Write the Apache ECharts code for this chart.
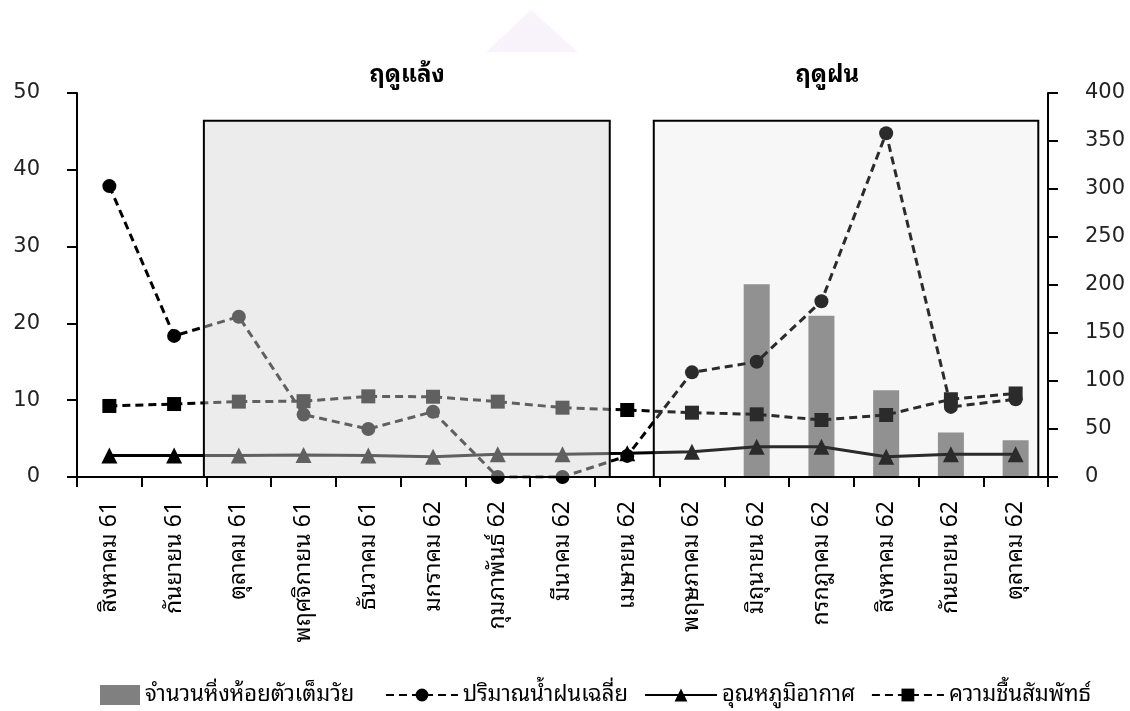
<!DOCTYPE html>
<html>
<head>
<meta charset="utf-8">
<title>หิ่งห้อยและสภาพอากาศ</title>
<script src="https://cdn.jsdelivr.net/npm/echarts@6/dist/echarts.min.js"></script>
<style>
  html, body { margin: 0; padding: 0; background: #ffffff; }
  #chart { width: 1130px; height: 711px; }
</style>
</head>
<body>
<div id="chart"></div>
<script>
// Months (Thai Buddhist-era short years)
const months = [
  'สิงหาคม 61', 'กันยายน 61', 'ตุลาคม 61', 'พฤศจิกายน 61', 'ธันวาคม 61',
  'มกราคม 62', 'กุมภาพันธ์ 62', 'มีนาคม 62', 'เมษายน 62', 'พฤษภาคม 62',
  'มิถุนายน 62', 'กรกฎาคม 62', 'สิงหาคม 62', 'กันยายน 62', 'ตุลาคม 62'
];

// Adult fireflies counted (left axis)
const fireflyAdults = [0, 0, 0, 0, 0, 0, 0, 0, 0, 0, 25.1, 21.0, 11.3, 5.8, 4.8];
// Average rainfall (right axis)
const rainfall = [303, 147, 167, 65, 50, 68, 0, 0, 22, 109, 120, 183, 358, 73, 81];
// Air temperature (right axis)
const airTemperature = [22.5, 22.5, 22.5, 23, 22.5, 21.2, 23.6, 23.6, 24.7, 26.4, 31.6, 31.6, 21.2, 23.6, 23.6];
// Relative humidity (right axis)
const relativeHumidity = [74, 76, 78.5, 79, 84, 83.6, 78.5, 72.2, 69.8, 67, 65.3, 59.4, 64.6, 81, 87];

const seriesNames = ['จำนวนหิ่งห้อยตัวเต็มวัย', 'ปริมาณน้ำฝนเฉลี่ย', 'อุณหภูมิอากาศ', 'ความชื้นสัมพัทธ์'];
const seasonNames = ['ฤดูแล้ง', 'ฤดูฝน'];

// Season panels in category-index units
const drySpan = [1.46, 7.73];
const wetSpan = [8.41, 14.35];
const panelTop = 46.4;          // left-axis value of the panel top edge
const seasonLabelAt = [4.6, 11.09];

const FONT = "'Noto Sans Thai Looped', 'Noto Sans Thai', 'Loma', 'Garuda', 'DejaVu Sans', sans-serif";
const NUM_FONT = "'DejaVu Sans', 'Noto Sans', sans-serif";

const axisCommon = {
  axisLine: { show: true, lineStyle: { color: '#000', width: 2 } },
  axisTick: { show: true, length: 10, lineStyle: { color: '#000', width: 2 } },
  splitLine: { show: false },
  axisLabel: { fontSize: 21, color: '#222', margin: 37, fontFamily: NUM_FONT }
};

const dashed = [8, 5];
const legendText = { fontSize: 22, color: '#000', fontFamily: FONT };

const option = {
  backgroundColor: '#ffffff',
  animation: false,
  textStyle: { fontFamily: FONT },
  grid: { left: 77, right: 82, top: 93, bottom: 234, containLabel: false },
  legend: [
    {
      top: 679,
      left: 95,
      itemWidth: 40,
      itemHeight: 20,
      itemGap: 10,
      textStyle: legendText,
      data: [{ name: seriesNames[0], icon: 'rect' }]
    },
    {
      top: 679,
      left: 380,
      itemWidth: 72,
      itemHeight: 16,
      itemGap: 16,
      textStyle: legendText,
      data: seriesNames.slice(1)
    }
  ],
  xAxis: {
    type: 'category',
    data: months,
    boundaryGap: true,
    axisLine: { show: true, lineStyle: { color: '#000', width: 2 } },
    axisTick: { show: true, length: 10, lineStyle: { color: '#000', width: 2 } },
    axisLabel: { rotate: 90, fontSize: 23, color: '#000', margin: 24, interval: 0, fontFamily: FONT }
  },
  yAxis: [
    Object.assign({ type: 'value', min: 0, max: 50, interval: 10, position: 'left' }, axisCommon),
    Object.assign({ type: 'value', min: 0, max: 400, interval: 50, position: 'right' }, axisCommon)
  ],
  series: [
    {
      name: seriesNames[0],
      type: 'bar',
      yAxisIndex: 0,
      data: fireflyAdults,
      barWidth: 26,
      itemStyle: { color: '#808080' },
      z: 1
    },
    {
      name: seriesNames[1],
      type: 'line',
      yAxisIndex: 1,
      data: rainfall,
      symbol: 'circle',
      symbolSize: 14,
      lineStyle: { color: '#000', width: 3, type: dashed },
      itemStyle: { color: '#000' },
      z: 3
    },
    {
      name: seriesNames[2],
      type: 'line',
      yAxisIndex: 1,
      data: airTemperature,
      symbol: 'triangle',
      symbolSize: 16,
      lineStyle: { color: '#000', width: 3, type: 'solid' },
      itemStyle: { color: '#000' },
      z: 3
    },
    {
      name: seriesNames[3],
      type: 'line',
      yAxisIndex: 1,
      data: relativeHumidity,
      symbol: 'rect',
      symbolSize: 14,
      lineStyle: { color: '#000', width: 3, type: dashed },
      itemStyle: { color: '#000' },
      z: 3
    }
  ]
};

const chart = echarts.init(document.getElementById('chart'), null, { renderer: 'canvas' });
chart.setOption(option);

// Season panels, placed through the axes
function xAt(i) {
  const x0 = chart.convertToPixel({ xAxisIndex: 0 }, 0);
  const x1 = chart.convertToPixel({ xAxisIndex: 0 }, 1);
  return x0 + i * (x1 - x0);
}
function yAt(v) {
  return chart.convertToPixel({ yAxisIndex: 0 }, v);
}

const yTop = yAt(panelTop);
const yBase = yAt(0);

function panel(span, fill) {
  const x0 = xAt(span[0]);
  const x1 = xAt(span[1]);
  return {
    type: 'rect',
    z: 100,
    shape: { x: x0, y: yTop, width: x1 - x0, height: yBase - yTop },
    style: { fill: fill, stroke: '#000', lineWidth: 2 }
  };
}

function seasonLabel(text, at) {
  return {
    type: 'text',
    z: 100,
    x: xAt(at),
    y: yTop - 45,
    style: {
      text: text,
      fontSize: 24,
      fontWeight: 'bold',
      fill: '#000',
      fontFamily: FONT,
      align: 'center',
      verticalAlign: 'middle'
    }
  };
}

chart.setOption({
  graphic: [
    {
      type: 'polygon',
      z: 0,
      shape: { points: [[486, 52], [531, 10], [578, 52]] },
      style: { fill: 'rgba(226, 200, 232, 0.18)', shadowBlur: 10, shadowColor: 'rgba(226,200,232,0.35)' }
    },
    panel(drySpan, 'rgba(213, 213, 213, 0.45)'),
    panel(wetSpan, 'rgba(215, 215, 215, 0.2)'),
    seasonLabel(seasonNames[0], seasonLabelAt[0]),
    seasonLabel(seasonNames[1], seasonLabelAt[1])
  ]
});
</script>
</body>
</html>
